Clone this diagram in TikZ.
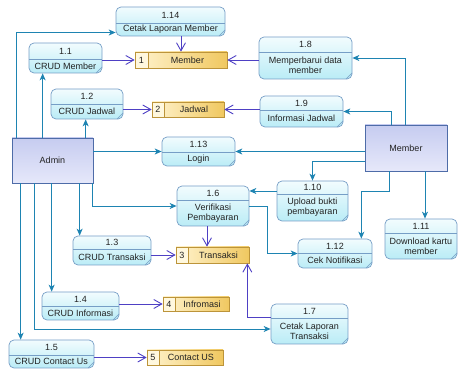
\documentclass[tikz,border=0pt]{standalone}
\usepackage{fontspec}
\setmainfont{Liberation Sans}
\usepackage{tikz}
\usetikzlibrary{arrows.meta}

\definecolor{procTop}{RGB}{242,252,254}
\definecolor{procBot}{RGB}{186,236,246}
\definecolor{procDraw}{RGB}{118,158,198}
\definecolor{entTop}{RGB}{198,204,240}
\definecolor{entBot}{RGB}{230,232,250}
\definecolor{entDraw}{RGB}{78,108,168}
\definecolor{storeA}{RGB}{255,243,206}
\definecolor{storeB}{RGB}{240,200,96}
\definecolor{storeNum}{RGB}{255,248,222}
\definecolor{storeDraw}{RGB}{188,148,58}
\definecolor{flowCol}{RGB}{30,132,178}
\definecolor{dataCol}{RGB}{78,64,196}
\definecolor{txtCol}{RGB}{34,34,34}

\begin{document}
\begin{tikzpicture}[x=1pt,y=-1pt,
			proc/.style={draw=procDraw,line width=0.7pt,rounded corners=5pt,top color=procTop,bottom color=procBot,inner sep=0pt},
			procline/.style={draw=procDraw,line width=0.6pt},
			ent/.style={draw=entDraw,line width=0.8pt,top color=entTop,bottom color=entBot,inner sep=0pt,text=txtCol,font=\fontsize{9}{10}\selectfont},
			store/.style={draw=storeDraw,line width=0.7pt,left color=storeA,right color=storeB,inner sep=0pt},
			storeline/.style={draw=storeDraw,line width=0.7pt},
			ptext/.style={text=txtCol,inner sep=0.5pt,font=\fontsize{9}{9.8}\selectfont},
			flow/.style={-{Stealth[length=7pt,width=6pt,inset=2pt]},draw=flowCol,line width=0.9pt},
			data/.style={-{Straight Barb[length=8pt,width=9pt]},draw=dataCol,line width=0.9pt}]
			\useasboundingbox (0,0) rectangle (459,374);
			%% external entities
			\node[ent,minimum width=81pt,minimum height=45pt] (admin) at (52.5,160.5) {Admin};
			\node[ent,minimum width=82pt,minimum height=46pt] (member) at (406,148) {Member};
			%% processes: name/left/top/right/bottom/divider/number/title
			\foreach \nm/\xa/\ya/\xb/\yb/\yd/\num/\txt in {
				p114/116/7/225/36/23/1.14/Cetak Laporan Member,
				p11/29/43/102/73/59/1.1/CRUD Member,
				p12/51/89/123/119/104/1.2/CRUD Jadwal,
				p18/259/37/352/79/52/1.8/{Memperbarui data\\member},
				p19/260/96/343/127/110/1.9/Informasi Jadwal,
				p113/162/137/235/166/152/1.13/Login,
				p16/177/186/249/226/200/1.6/{Verifikasi\\Pembayaran},
				p110/277/181/348/221/194/1.10/{Upload bukti\\pembayaran},
				p111/385/219/457/259/233/1.11/{Download kartu\\member},
				p112/298/239/372/268/253/1.12/Cek Notifikasi,
				p13/73/236/151/265/249/1.3/CRUD Transaksi,
				p14/42/292/119/320/306/1.4/CRUD Informasi,
				p17/271/304/348/344/318/1.7/{Cetak Laporan\\Transaksi},
				p15/9/340/94/368/355/1.5/CRUD Contact Us} {
				\node[proc,minimum width={(\xb-\xa)*1pt},minimum height={(\yb-\ya)*1pt}] (\nm) at ({(\xa+\xb)/2},{(\ya+\yb)/2}) {};
				\draw[procline] (\xa,\yd) -- (\xb,\yd);
				\draw[procline] ({\xb-6},\yb) -- (\xb,{\yb-6});
				\node[ptext] (\nm-n) at ({(\xa+\xb)/2},{(\ya+\yd)/2}) {\num};
				\node[ptext,align=center] (\nm-t) at ({(\xa+\xb)/2},{(\yd+\yb)/2}) {\txt};
			}
			%% data stores: name/left/top/right/bottom/divider/number/title
			\foreach \nm/\xa/\ya/\xb/\yb/\xd/\num/\txt in {
				s1/135/52/227/68/148/1/Member,
				s2/152/102/224/117/164/2/Jadwal,
				s3/176/247/249/263/188/3/Transaksi,
				s4/163/297/229/311/175/4/Infromasi,
				s5/147/350/223/365/159/5/Contact US} {
				\node[store,minimum width={(\xb-\xa)*1pt},minimum height={(\yb-\ya)*1pt}] (\nm) at ({(\xa+\xb)/2},{(\ya+\yb)/2}) {};
				\fill[storeNum] (\xa,\ya) rectangle (\xd,\yb);
				\draw[storeline] (\xa,\ya) rectangle (\xb,\yb);
				\draw[storeline] (\xd,\ya) -- (\xd,\yb);
				\node[ptext] (\nm-n) at ({(\xa+\xd)/2},{(\ya+\yb)/2}) {\num};
				\node[ptext] (\nm-t) at ({(\xd+\xb)/2},{(\ya+\yb)/2}) {\txt};
			}
			%% flows from Admin
			\draw[flow] ([xshift=5pt]admin.north west) |- ([yshift=-11pt]p114.west);
			\draw[flow] ([xshift=14pt]p11.south west |- admin.north) -- ([xshift=14pt]p11.south west);
			\draw[flow] ([xshift=35pt]p12.south west |- admin.north) -- ([xshift=35pt]p12.south west);
			\draw[flow] (admin.east |- p113.west) -- (p113.west);
			\draw[flow] ([xshift=-1pt]admin.south east) |- (p16.west);
			\draw[flow] ([xshift=7pt]p13.north west |- admin.south) -- ([xshift=7pt]p13.north west);
			\draw[flow] ([xshift=10pt]p14.north west |- admin.south) -- ([xshift=10pt]p14.north west);
			\draw[flow] ([xshift=23pt]admin.south west) |- ([yshift=-5pt]p17.west);
			\draw[flow] ([xshift=12pt]p15.north west |- admin.south) -- ([xshift=12pt]p15.north west);
			%% flows from Member
			\draw[flow] ([xshift=41pt]member.north west) |- (p18.east);
			\draw[flow] ([xshift=27pt]member.north west) |- (p19.east);
			\draw[flow] (member.west |- p113.east) -- (p113.east);
			\draw[flow] ([yshift=-37pt]member.north west) -| (p110.north);
			\draw[flow] ([xshift=25pt]member.south west) -- ++(0,20) -| ([xshift=-11pt]p112.north east);
			\draw[flow] ([xshift=4pt]p111.north |- member.south) -- ([xshift=4pt]p111.north);
			%% flows between processes
			\draw[flow] ([yshift=10pt]p110.west) -- ([yshift=10pt]p110.west -| p16.east);
			\draw[flow] (p16.east) -- ++(18,0) |- (p112.west);
			%% flows into data stores
			\draw[data] (p11.east |- s1.west) -- (s1.west);
			\draw[data] (s1.north |- p114.south) -- (s1.north);
			\draw[data] (p18.west |- s1.east) -- (s1.east);
			\draw[data] (p12.east |- s2.west) -- (s2.west);
			\draw[data] (p19.west |- s2.east) -- (s2.east);
			\draw[data] ([xshift=-6pt]p16.south) -- ([xshift=-6pt]p16.south |- s3.north);
			\draw[data] ([yshift=7pt]p17.west) -| ([xshift=-2pt]s3.south east);
			\draw[data] (p13.east |- s3.west) -- (s3.west);
			\draw[data] (p14.east |- s4.west) -- (s4.west);
			\draw[data] (p15.east |- s5.west) -- (s5.west);
		\end{tikzpicture}
\end{document}
